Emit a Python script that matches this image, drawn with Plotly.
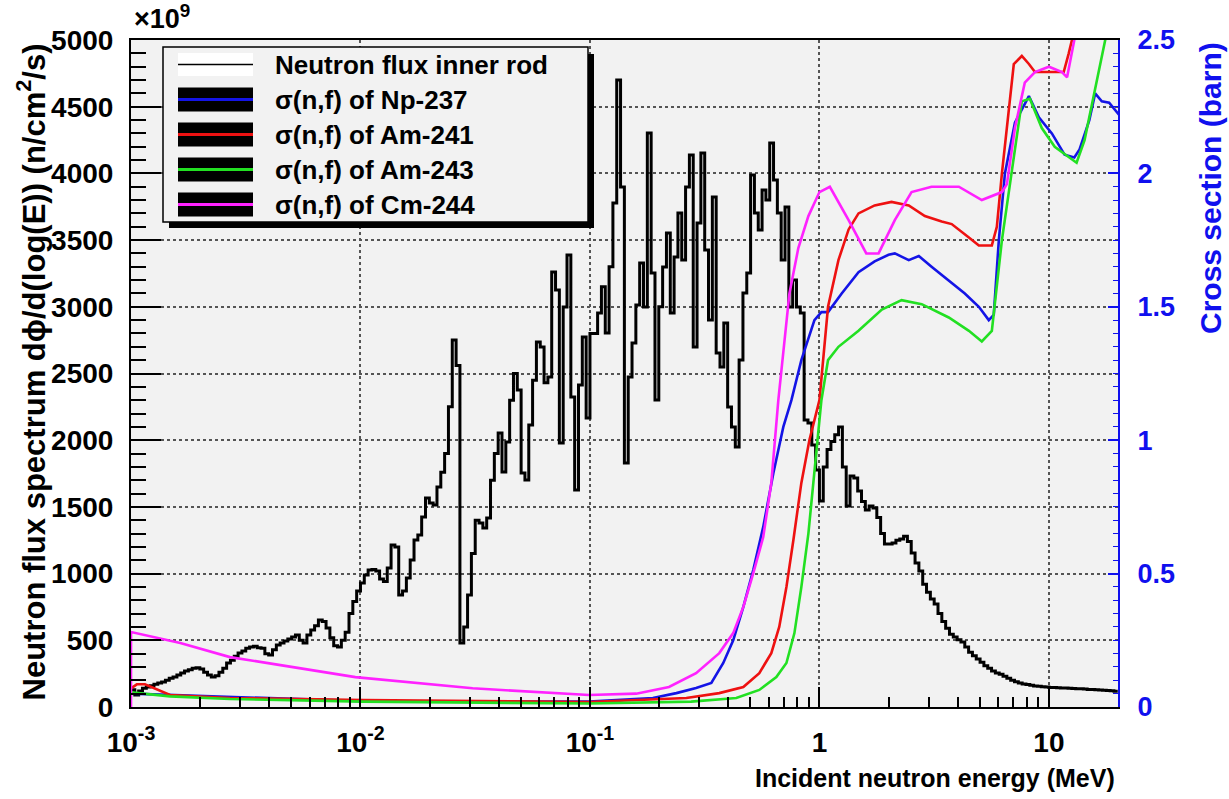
import numpy as np
import plotly.graph_objects as go

# ---------------- data ----------------
# Neutron flux (x1e9 n/cm2/s per unit log E), histogram with 60 log-bins per decade from 1e-3 MeV
flux_bins_per_decade = 60
flux_emin = 1e-3
flux_d1 = [130, 90, 120, 140, 150, 160, 170, 180, 187, 200,
           215, 225, 240, 255, 270, 280, 290, 295, 285, 260,
           240, 225, 235, 260, 290, 330, 350, 380, 405, 420,
           440, 450, 455, 445, 440, 400, 390, 430, 465, 480,
           495, 510, 525, 540, 500, 480, 540, 577, 610, 652,
           640, 592, 520, 460, 450, 500, 560, 700, 790, 870]
flux_d2 = [930, 990, 1027, 1030, 1020, 960, 940, 1042, 1214, 1200,
           840, 870, 967, 1102, 1252, 1290, 1424, 1567, 1530, 1514,
           1649, 1760, 1900, 2250, 2751, 2560, 480, 600, 840, 1150,
           1400, 1380, 1342, 1417, 1700, 1900, 2054, 1762, 1986, 2300,
           2500, 2376, 1754, 1702, 2114, 2450, 2736, 2699, 2430, 2474,
           3261, 3126, 1979, 2998, 3388, 2324, 1627, 2414, 2774, 2166]
flux_d3 = [2800, 2800, 2953, 3150, 2804, 3300, 3778, 4700, 3898, 1829,
           2474, 2729, 3013, 3328, 2998, 4303, 3253, 2301, 3000, 3298,
           3553, 2953, 3373, 3703, 3351, 3898, 4138, 2699, 3628, 4153,
           3426, 2901, 3823, 2654, 2549, 2878, 2249, 2099, 1949, 2601,
           3103, 3253, 3988, 3703, 3576, 3876, 3801, 4228, 3951, 3703,
           3351, 3748, 2998, 3201, 2998, 2953, 2151, 2129, 1964, 1777]
flux_d4 = [1544, 1800, 1930, 1990, 2040, 2099, 1800, 1507, 1732, 1717,
           1620, 1540, 1477, 1507, 1492, 1420, 1300, 1222, 1222, 1230,
           1250, 1260, 1280, 1240, 1154, 1080, 1020, 920, 860, 810,
           772, 700, 640, 590, 545, 525, 505, 487, 450, 410,
           385, 360, 335, 310, 290, 270, 255, 245, 230, 215,
           200, 190, 180, 172, 168, 163, 158, 155, 152, 150]
flux_tail = [147, 146, 144, 143, 142, 140, 139, 137, 136, 134,
             132, 131, 129, 127, 125, 123, 121, 118]
flux_values = flux_d1 + flux_d2 + flux_d3 + flux_d4 + flux_tail

# Fission cross sections (MeV, barn)
np237_E = [0.001, 0.0103, 0.099, 0.188, 0.238, 0.29, 0.338, 0.381, 0.421, 0.466, 0.515, 0.569,
           0.63, 0.696, 0.755, 0.834, 0.951, 1.02, 1.09, 1.25, 1.48, 1.74, 2.0, 2.13, 2.45, 2.71,
           3.08, 3.66, 4.3, 4.95, 5.47, 5.75, 6.05, 6.43, 7.11, 8.18, 9.04, 10.3, 11.7, 12.9,
           13.6, 15.0, 15.9, 17.0, 18.3, 20.2]
np237_xs = [0.05, 0.022, 0.02, 0.034, 0.052, 0.071, 0.09, 0.165, 0.25, 0.375, 0.514, 0.675,
            0.877, 1.05, 1.15, 1.30, 1.45, 1.48, 1.48, 1.55, 1.63, 1.67, 1.695, 1.70, 1.675, 1.69,
            1.65, 1.60, 1.55, 1.50, 1.45, 1.47, 1.75, 2.00, 2.19, 2.29, 2.21, 2.15, 2.07, 2.06,
            2.09, 2.20, 2.30, 2.27, 2.265, 2.22]

am241_E = [0.001, 0.00106, 0.00115, 0.00148, 0.0027, 0.0103, 0.099, 0.263, 0.366, 0.466, 0.547,
           0.617, 0.668, 0.718, 0.77, 0.834, 0.904, 1.0, 1.09, 1.21, 1.34, 1.48, 1.74, 2.06, 2.45,
           2.88, 3.41, 3.77, 4.48, 4.95, 5.64, 5.93, 6.24, 6.69, 7.03, 7.62, 8.18, 8.69, 10.0,
           11.6, 12.2, 12.6, 13.6]
am241_xs = [0.07, 0.085, 0.085, 0.045, 0.034, 0.026, 0.019, 0.034, 0.052, 0.075, 0.127,
            0.202, 0.30, 0.45, 0.626, 0.84, 1.00, 1.15, 1.50, 1.675, 1.79, 1.85, 1.88, 1.893, 1.88,
            1.84, 1.82, 1.81, 1.76, 1.73, 1.73, 1.80, 2.00, 2.25, 2.41, 2.44, 2.41, 2.38, 2.38,
            2.38, 2.45, 2.50, 2.70]

am243_E = [0.001, 0.00115, 0.00148, 0.0027, 0.0103, 0.099, 0.276, 0.434, 0.547, 0.649, 0.718,
           0.778, 0.834, 0.895, 0.942, 1.0, 1.02, 1.09, 1.21, 1.48, 1.87, 2.28, 2.79, 3.66, 4.48,
           5.10, 5.64, 6.24, 6.89, 7.62, 8.26, 9.31, 10.6, 12.2, 13.2, 14.3, 15.9, 17.6, 18.8]
am243_xs = [0.055, 0.05, 0.04, 0.03, 0.02, 0.013, 0.02, 0.034, 0.064, 0.112, 0.165,
            0.277, 0.45, 0.65, 0.84, 1.05, 1.15, 1.30, 1.35, 1.41, 1.49, 1.525, 1.51, 1.46, 1.41,
            1.37, 1.41, 1.75, 2.00, 2.27, 2.28, 2.17, 2.10, 2.06, 2.04, 2.125, 2.31, 2.50, 2.62]

cm244_E = [0.001, 0.001, 0.00164, 0.0027, 0.00448, 0.0074, 0.0095, 0.0308, 0.099, 0.159, 0.221,
           0.29, 0.366, 0.421, 0.466, 0.515, 0.569, 0.617, 0.662, 0.74, 0.809, 0.895, 1.0, 1.11,
           1.34, 1.60, 1.81, 2.13, 2.52, 3.08, 4.05, 5.10, 5.47, 6.24, 6.56, 7.11, 7.85, 8.69,
           10.0, 11.4, 12.0, 12.9, 13.6]
cm244_xs = [0.0, 0.281, 0.24, 0.187, 0.157, 0.127, 0.112, 0.07, 0.045, 0.05, 0.075,
            0.127, 0.202, 0.277, 0.375, 0.502, 0.637, 0.84, 1.15, 1.55, 1.72, 1.84, 1.93, 1.95,
            1.825, 1.70, 1.70, 1.825, 1.93, 1.95, 1.95, 1.90, 1.91, 1.93, 1.96, 2.17, 2.34, 2.38,
            2.40, 2.38, 2.36, 2.50, 2.70]

legend_labels = ["Neutron flux inner rod", "σ(n,f) of Np-237", "σ(n,f) of Am-241",
                 "σ(n,f) of Am-243", "σ(n,f) of Cm-244"]
x_tickvals = [1e-3, 1e-2, 1e-1, 1, 10]
x_ticktext = ["10<sup>-3</sup>", "10<sup>-2</sup>", "10<sup>-1</sup>", "1", "10"]

# ---------------- figure ----------------
W, H = 1229, 799
L, R, T, B = 131, 1118, 40, 707
FONT = "Liberation Sans, Arial, Helvetica, sans-serif"
BLUE = "#1010ee"
COLORS = ["#1414e6", "#ee1111", "#22e022", "#ff22ff"]


def px(x):
    return (x - L) / (R - L)


def py(y):
    return (B - y) / (B - T)


edges = flux_emin * 10 ** (np.arange(len(flux_values) + 1) / flux_bins_per_decade)
fig = go.Figure()
fig.add_trace(go.Scatter(x=edges, y=flux_values + [flux_values[-1]], mode="lines",
                         line=dict(color="black", width=3, shape="hv"), showlegend=False))

for E, xs, c in [(np237_E, np237_xs, COLORS[0]), (am241_E, am241_xs, COLORS[1]),
                 (am243_E, am243_xs, COLORS[2]), (cm244_E, cm244_xs, COLORS[3])]:
    fig.add_trace(go.Scatter(x=E, y=xs, yaxis="y2", mode="lines",
                             line=dict(color=c, width=2.6), showlegend=False))

minor_x = [m * 10.0 ** d for d in range(-3, 2) for m in range(2, 10) if m * 10.0 ** d <= 20]

fig.update_layout(
    width=W, height=H,
    margin=dict(l=L, r=W - R, t=T, b=H - B, pad=0),
    paper_bgcolor="white", plot_bgcolor="#f2f2f2",
    font=dict(family=FONT, size=24, color="black", weight="bold"),
    showlegend=False,
    xaxis=dict(type="log", range=[-3, np.log10(20)], tickmode="array",
               tickvals=x_tickvals, ticktext=x_ticktext,
               ticks="inside", ticklen=20, tickwidth=1.5, tickcolor="black",
               minor=dict(tickmode="array", tickvals=minor_x, ticks="inside", ticklen=10,
                          tickwidth=1.5, tickcolor="black", showgrid=False),
               showgrid=True, gridcolor="#555555", griddash="dot", gridwidth=1.5,
               showline=True, linecolor="black", linewidth=2, mirror=True,
               zeroline=False, ticklabelstandoff=9,
               tickfont=dict(family=FONT, size=28, weight="bold")),
    yaxis=dict(range=[0, 5000], tick0=0, dtick=500, ticks="inside", ticklen=30, tickwidth=1.5,
               tickcolor="black",
               minor=dict(dtick=100, ticks="inside", ticklen=15, tickwidth=1.5,
                          tickcolor="black", showgrid=False),
               showgrid=True, gridcolor="#555555", griddash="dot", gridwidth=1.5,
               showline=True, linecolor="black", linewidth=2, zeroline=False,
               ticklabelstandoff=10, tickfont=dict(family=FONT, size=28, weight="bold")),
    yaxis2=dict(range=[0, 2.5], tick0=0, dtick=0.5, overlaying="y", side="right",
                ticks="inside", ticklen=10, tickwidth=1.5, tickcolor=BLUE,
                minor=dict(dtick=0.05, ticks="inside", ticklen=5, tickwidth=1.2,
                           tickcolor=BLUE, showgrid=False),
                showgrid=False, showline=True, linecolor=BLUE, linewidth=2, zeroline=False,
                ticklabelstandoff=12,
                tickfont=dict(family=FONT, size=27, color=BLUE, weight="bold")),
)

shapes = []
# legend shadow + box
shapes.append(dict(type="rect", xref="paper", yref="paper", x0=px(169), x1=px(594),
                   y0=py(228), y1=py(54), fillcolor="black", line=dict(width=0), layer="above"))
shapes.append(dict(type="rect", xref="paper", yref="paper", x0=px(163), x1=px(588),
                   y0=py(222), y1=py(47), fillcolor="#f2f2f2",
                   line=dict(color="black", width=1.5), layer="above"))
row_y = [64.5, 99.5, 134.5, 169.5, 204.5]
# flux symbol (white box with thin black line)
shapes.append(dict(type="rect", xref="paper", yref="paper", x0=px(178), x1=px(253),
                   y0=py(76), y1=py(53), fillcolor="white", line=dict(width=0), layer="above"))
shapes.append(dict(type="line", xref="paper", yref="paper", x0=px(178), x1=px(253),
                   y0=py(row_y[0]), y1=py(row_y[0]), line=dict(color="black", width=1.5),
                   layer="above"))
for yy, c in zip(row_y[1:], COLORS):
    shapes.append(dict(type="rect", xref="paper", yref="paper", x0=px(178), x1=px(253),
                       y0=py(yy + 12), y1=py(yy - 12), fillcolor="black",
                       line=dict(width=0), layer="above"))
    shapes.append(dict(type="line", xref="paper", yref="paper", x0=px(178), x1=px(253),
                       y0=py(yy), y1=py(yy), line=dict(color=c, width=3), layer="above"))
fig.update_layout(shapes=shapes)

ann = []
for yy, lab in zip(row_y, legend_labels):
    ann.append(dict(xref="paper", yref="paper", x=px(273), y=py(yy), text=lab,
                    xanchor="left", yanchor="middle", showarrow=False,
                    font=dict(family=FONT, size=26, color="black", weight="bold")))
ann.append(dict(xref="paper", yref="paper", x=px(1117), y=py(778),
                text="Incident neutron energy (MeV)", xanchor="right", yanchor="middle",
                showarrow=False, font=dict(family=FONT, size=25, color="black", weight="bold")))
ann.append(dict(xref="paper", yref="paper", x=px(31), y=py(42),
                text="Neutron flux spectrum d\u03d5/d(log(E)) (n/cm<sup>2</sup>/s)",
                textangle=-90, xanchor="center", yanchor="top", showarrow=False,
                font=dict(family=FONT, size=31, color="black", weight="bold")))
ann.append(dict(xref="paper", yref="paper", x=px(1210), y=py(40),
                text="Cross section (barn)", textangle=-90, xanchor="center", yanchor="top",
                showarrow=False, font=dict(family=FONT, size=30, color=BLUE, weight="bold")))
ann.append(dict(xref="paper", yref="paper", x=px(132), y=py(17),
                text="\u00d710<sup>9</sup>", xanchor="left", yanchor="middle",
                showarrow=False, font=dict(family=FONT, size=27, color="black", weight="bold")))
fig.update_layout(annotations=ann)

fig.write_html("out.html")
